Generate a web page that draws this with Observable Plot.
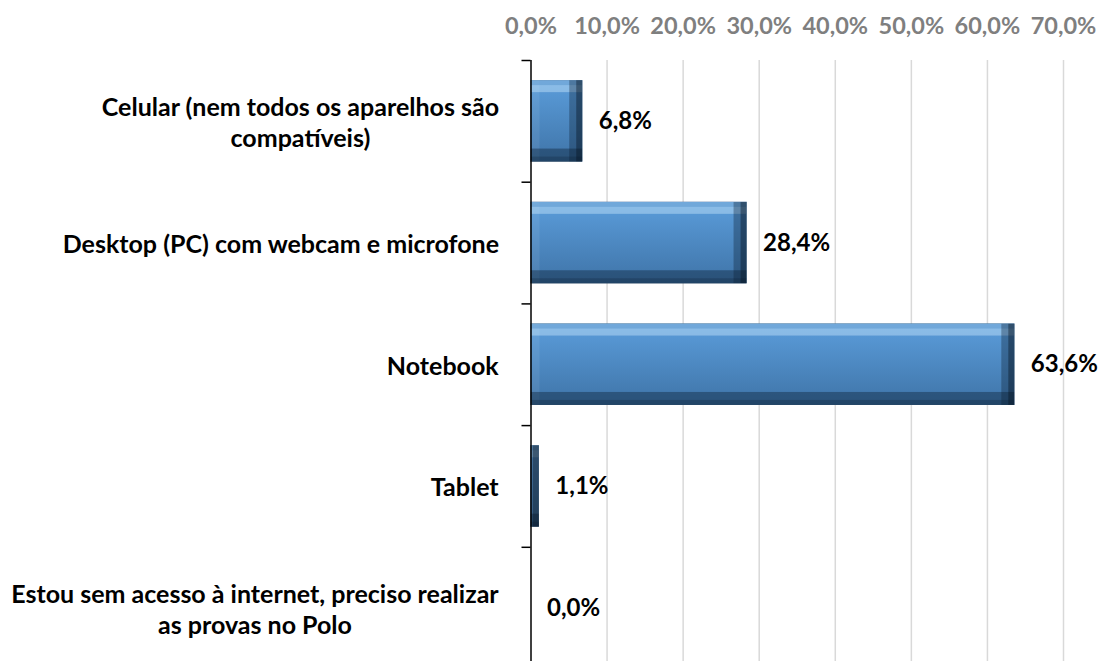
<!DOCTYPE html>
<html><head><meta charset="utf-8">
<script src="https://cdn.jsdelivr.net/npm/d3@7"></script>
<script src="https://cdn.jsdelivr.net/npm/@observablehq/plot@0.6"></script>
<style>
html,body{margin:0;padding:0;background:#fff;}
#chart svg{display:block;}
</style></head><body><div id="chart"></div>
<script>
const categories = [
  "Celular (nem todos os aparelhos são\ncompatíveis)",
  "Desktop (PC) com webcam e microfone",
  "Notebook",
  "Tablet",
  "Estou sem acesso à internet, preciso realizar\nas provas no Polo"
];
const values = [6.8, 28.4, 63.6, 1.1, 0.0];
const xTicks = [0, 10, 20, 30, 40, 50, 60, 70];

const rows = categories.map((c, i) => ({i, category: c, value: values[i]}));
const boundaries = d3.range(categories.length + 1).map(i => i - 0.5);
const pct = v => v.toFixed(1).replace(".", ",") + "%";
const FONT = "Lato, 'Open Sans', sans-serif";
const half = 0.3345;

const plot = Plot.plot({
  width: 1100, height: 661,
  marginLeft: 530.5, marginRight: 37, marginTop: 60, marginBottom: 0,
  style: {fontFamily: FONT, background: "white", overflow: "visible"},
  x: {domain: [0, 70]},
  y: {domain: [-0.5, 4.5], range: [60, 668.5]},
  marks: [
    Plot.gridX(xTicks.slice(1), {stroke: "#d9d9d9", strokeOpacity: 1, strokeWidth: 1.5}),
    Plot.axisX(xTicks, {anchor: "top", tickSize: 0, tickPadding: 27, tickFormat: pct, fill: "#7f7f7f", fontSize: 23.5, fontWeight: "bold", label: null}),
    Plot.rect(rows, {x1: 0, x2: "value", y1: d => d.i - half, y2: d => d.i + half, fill: "url(#barFace)"}),
    Plot.ruleX([0], {stroke: "black", strokeWidth: 1.5}),
    Plot.axisY(boundaries, {anchor: "left", tickSize: 9, tickFormat: () => "", stroke: "black", strokeWidth: 1.5, label: null}),
    Plot.axisY(d3.range(categories.length), {anchor: "left", tickSize: 0, tickPadding: 32, tickFormat: i => categories[i], fontSize: 25, fontWeight: "bold", fill: "black", lineHeight: 1.25, label: null}),
    Plot.text(rows, {x: "value", y: "i", text: d => pct(d.value), textAnchor: "start", dx: 16, fontSize: 24, fontWeight: "bold", fill: "black"})
  ]
});

document.getElementById("chart").append(plot);
const svg = plot.tagName.toLowerCase() === "svg" ? plot : plot.querySelector("svg");
const ns = "http://www.w3.org/2000/svg";
const defs = document.createElementNS(ns, "defs");
defs.innerHTML = `
<linearGradient id="barFace" x1="0" y1="0" x2="0" y2="1">
  <stop offset="0" stop-color="#5b9ddb"/>
  <stop offset="1" stop-color="#3f74a8"/>
</linearGradient>
<filter id="bevel" x="0" y="0" width="1" height="1" color-interpolation-filters="sRGB">
  <feOffset in="SourceAlpha" dx="0" dy="12" result="oT"/>
  <feComposite in="SourceAlpha" in2="oT" operator="out" result="sT"/>
  <feFlood flood-color="#d6efff" flood-opacity="0.4"/>
  <feComposite in2="sT" operator="in" result="cT"/>
  <feOffset in="SourceAlpha" dx="0" dy="5" result="oT2"/>
  <feComposite in="SourceAlpha" in2="oT2" operator="out" result="sT2"/>
  <feFlood flood-color="#3f80c0" flood-opacity="0.35"/>
  <feComposite in2="sT2" operator="in" result="cT2"/>
  <feOffset in="SourceAlpha" dx="0" dy="-13" result="oB"/>
  <feComposite in="SourceAlpha" in2="oB" operator="out" result="sB"/>
  <feFlood flood-color="#0b1e33" flood-opacity="0.4"/>
  <feComposite in2="sB" operator="in" result="cB"/>
  <feOffset in="SourceAlpha" dx="0" dy="-5" result="oB2"/>
  <feComposite in="SourceAlpha" in2="oB2" operator="out" result="sB2"/>
  <feFlood flood-color="#0b1e33" flood-opacity="0.25"/>
  <feComposite in2="sB2" operator="in" result="cB2"/>
  <feOffset in="SourceAlpha" dx="-13" dy="0" result="oR"/>
  <feComposite in="SourceAlpha" in2="oR" operator="out" result="sR"/>
  <feFlood flood-color="#0b1e33" flood-opacity="0.35"/>
  <feComposite in2="sR" operator="in" result="cR"/>
  <feOffset in="SourceAlpha" dx="-6" dy="0" result="oR2"/>
  <feComposite in="SourceAlpha" in2="oR2" operator="out" result="sR2"/>
  <feFlood flood-color="#06121f" flood-opacity="0.4"/>
  <feComposite in2="sR2" operator="in" result="cR2"/>
  <feOffset in="SourceAlpha" dx="9" dy="0" result="oL"/>
  <feComposite in="SourceAlpha" in2="oL" operator="out" result="sL"/>
  <feFlood flood-color="#ffffff" flood-opacity="0.07"/>
  <feComposite in2="sL" operator="in" result="cL"/>
  <feMerge>
    <feMergeNode in="SourceGraphic"/><feMergeNode in="cL"/><feMergeNode in="cT"/><feMergeNode in="cT2"/>
    <feMergeNode in="cB"/><feMergeNode in="cB2"/><feMergeNode in="cR"/><feMergeNode in="cR2"/>
  </feMerge>
</filter>`;
svg.insertBefore(defs, svg.firstChild);
svg.querySelectorAll('g[aria-label="rect"] rect').forEach(r => r.setAttribute("filter", "url(#bevel)"));
svg.querySelectorAll('g[aria-label="y-axis tick label"] text').forEach(t => {
  const w = t.getBBox().width;
  if (!w) return;
  t.setAttribute("text-anchor", "middle");
  const tr = t.getAttribute("transform") || "";
  t.setAttribute("transform", tr + ` translate(${-w / 2},0)`);
});
</script>
</body></html>
